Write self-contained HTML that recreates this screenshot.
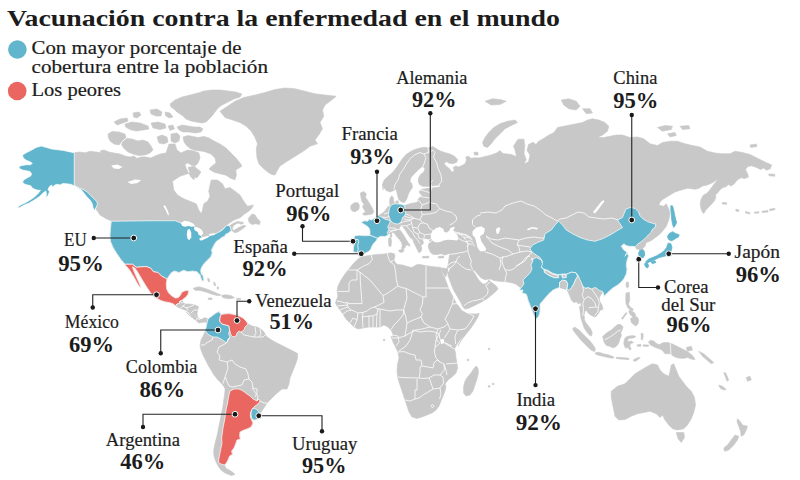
<!DOCTYPE html>
<html lang="es"><head><meta charset="utf-8"><title>Vacunación contra la enfermedad en el mundo</title>
<style>
html,body{margin:0;padding:0;background:#fff;}
body{width:800px;height:480px;overflow:hidden;position:relative;font-family:"Liberation Serif",serif;}
svg{position:absolute;left:0;top:0;font-family:"Liberation Serif",serif;}
text{fill:#1c1c1c;}
.n{font-size:19px;stroke:#1c1c1c;stroke-width:0.2px;}
.p{font-size:24px;font-weight:bold;}
.t{font-size:23.2px;font-weight:bold;}
.g{font-size:19px;stroke:#1c1c1c;stroke-width:0.2px;}
</style></head><body>
<svg width="800" height="480" viewBox="0 0 800 480">
<path d="M220,111.25L227.5,106.25L235,101.25L243.75,97.5L255,95L265,92.5L275,89.5L285,88L295,88.75L305,91.25L315,93.75L325,95L336.25,96.25L330,101.25L325,105L322.5,110L323.75,116.25L320,122.5L322.5,128.75L318.75,135L315,140L317.5,143.75L310,146.25L305,150L302,152L294,157L286,162L280,166L277,171L275,175L272,174.5L269,173L264,169L259,164L257,158L256.25,148.75L257.5,143.75L255,137.5L251.25,131.25L246.25,126.25L240,122.5L232.5,120L225,117.5Z" fill="#c8c8c8" stroke="#c8c8c8" stroke-width="0.6" stroke-linejoin="round"/>
<path d="M170,104L175,100L182,97L190,95L198,93L204,91L212,90L220,90L228,91L236,92L242,94L240,97L234,99L228,102L222,105L218,108L215,112L212,116L209,119L206,122L202,123L196,122L191,121L186,119L183,116L180,114L177,112L174,109L171,107Z" fill="#c8c8c8" stroke="#c8c8c8" stroke-width="0.6" stroke-linejoin="round"/>
<path d="M177,127L182,125L188,126L194,127L200,127L203,129L201,132L195,133L189,132L183,132L179,130Z" fill="#c8c8c8" stroke="#c8c8c8" stroke-width="0.6" stroke-linejoin="round"/>
<path d="M150,110L157,109L162,112L161,116L156,116L151,114Z" fill="#c8c8c8" stroke="#c8c8c8" stroke-width="0.6" stroke-linejoin="round"/>
<path d="M165,112L170,113L173,117L169,118L165.6,115.6Z" fill="#c8c8c8" stroke="#c8c8c8" stroke-width="0.6" stroke-linejoin="round"/>
<path d="M133,113L139,112L141,115L137,118L133.6,117Z" fill="#c8c8c8" stroke="#c8c8c8" stroke-width="0.6" stroke-linejoin="round"/>
<path d="M114,122L120,119L127,118L128,121L123,123L117,125Z" fill="#c8c8c8" stroke="#c8c8c8" stroke-width="0.6" stroke-linejoin="round"/>
<path d="M125,124L132,122L140,123L148,126L149,129L143,130L136,131L130,129.6L125.6,127Z" fill="#c8c8c8" stroke="#c8c8c8" stroke-width="0.6" stroke-linejoin="round"/>
<path d="M151,123L158,122L165,124L166,128L160,129.6L153,128Z" fill="#c8c8c8" stroke="#c8c8c8" stroke-width="0.6" stroke-linejoin="round"/>
<path d="M168,126L173,125L174.4,129L170,130.4Z" fill="#c8c8c8" stroke="#c8c8c8" stroke-width="0.6" stroke-linejoin="round"/>
<path d="M108,134L112,131.6L119,132L125,134L126,137.6L122.4,140.4L119,145L114,144L110,141L108.4,137.6Z" fill="#c8c8c8" stroke="#c8c8c8" stroke-width="0.6" stroke-linejoin="round"/>
<path d="M122.4,142L127,138.4L132,139L138,141L143,140L148,142L151,146L153,150L150,153L145,155L139,155.6L133,154L128,152L124,148.4L121.6,144.8Z" fill="#c8c8c8" stroke="#c8c8c8" stroke-width="0.6" stroke-linejoin="round"/>
<path d="M157,137L162,135L167,137L168,142L164,144L159,143Z" fill="#c8c8c8" stroke="#c8c8c8" stroke-width="0.6" stroke-linejoin="round"/>
<path d="M171,134L177,133L180,136L179,141L175,143L171,141Z" fill="#c8c8c8" stroke="#c8c8c8" stroke-width="0.6" stroke-linejoin="round"/>
<path d="M183,137L188,135.6L193,136.4L198,137.6L204,136.4L209,138L214,141L220,144L226,148L231,153L236,158L240,163L242,166L239.4,167.8L235.8,170L236.4,175.2L235,179.8L230.4,178.2L226,175.2L220,173.8L214,172.2L209,169L212,166L216,163L215,158L211,154L204,151.4L196,150.4L191,149L187,146L184,142Z" fill="#c8c8c8" stroke="#c8c8c8" stroke-width="0.6" stroke-linejoin="round"/>
<path d="M188,167.6L194,166L201,172L197,178L191,175.6Z" fill="#c8c8c8" stroke="#c8c8c8" stroke-width="0.6" stroke-linejoin="round"/>
<path d="M74.25,152.75L79.5,152L85.5,152.75L90,151.25L96,152L102,152.75L100,151L104,150L109,152L114,153L120,154L125,156L130,157L134,156L137,158.4L141,157L146,157L151,158L155,156L160,154L166,153L169,144L175,144L177,150L181,153L185,151L188,150L194,151L199,153L200,158L198,163L195,166L191,165L188,163L185,164L186,168L188,172L191,177L194,180L195,171.25L187.5,173.75L180,176.25L172.5,181.25L173.75,190L177.5,195L183.75,198.75L190,201.25L196.25,203.75L198.75,210L201.25,213.75L202.5,210L203.75,203.75L207.5,201.25L210,196.25L208.75,191.25L210,185L211.25,180L217.5,180L222.5,183.75L225,188.75L230,187.5L235,191.25L240,195L243.75,201.25L247.5,206.25L253.5,205L252,208L249,211L244.5,214L240,217.75L234,220L229.5,223L225,226.75L220.5,230.5L216.75,233.2L220.5,232.9L225.75,229L231,224.8L234.75,222.55L238.5,221.2L240.3,222.4L236.25,223.75L233.25,226L232.2,229L234,230.5L238.5,227.5L243.75,225.25L246,226L242.25,229L237.75,232L234.75,232.75L232.5,231.1L231,230.5L228.75,232.75L225.75,234.25L224.25,236.5L222,237.25L219.75,239.2L216.75,241L214.5,244L213,247L211.5,250L212.25,253L210.75,256.75L207.75,259.75L204.75,262.75L202.5,265.75L201,268.75L200.7,271.75L201.75,274.75L201.8,272.5L203,276.25L203.75,279.25L202.7,281.8L201.2,278.5L200,274.75L197,271.75L192.5,271L188,271.75L183.5,270.25L179,272.5L174.5,271L171.5,272.5L169.25,275.5L167,279.25L166.25,283.75L166.7,289L168.5,292.75L171.5,295.75L175.25,298L178.25,297.7L180.5,295L182,292L185.75,290.5L188.75,290.8L188,294.25L185.75,297.25L183.5,298.75L182,300.25L183.5,302.5L185,304L189.5,304L194,304.75L198.5,306.55L197.75,310L197,313.75L197.75,317.5L200,319.75L203,322L189,310L192,313L195,316L198,318.4L201,319.6L205,317.6L208,319L207,323L205,322L201.6,322.4L199,323L195.6,320L192,317.6L189,315L186,312L198.5,322L196.25,320.5L194,318.25L191.75,316L189.5,313L186.5,310.75L182.75,309.25L179,307.75L175.7,305.8L173,303.7L169.25,302.5L164.75,301.75L160.25,300.25L156.5,298L153.5,295.75L150.5,292.75L148.25,289.3L146,286L143.75,282.25L141.5,278.5L139.25,274.75L137,271L134.75,268L132.5,266.8L133.25,269.5L134.75,273.25L136.7,277.75L138.5,281.5L140,285.25L140.6,287.35L138.8,286L136.7,282.25L134.75,278.5L132.5,274.75L130.25,271L128,268L125.75,265.75L125,264.25L120.5,259L117.5,254.5L114.5,250L112.5,246.25L110.5,241.25L110,235L110.5,228.75L111.25,221.25L112.5,221.25L106.25,218.75L100,215L96,209L97.5,204.5L96.75,201.5L93.75,198.5L90,194.75L87,191.75L83.25,189.5L79.5,188L76.5,186.5L74.25,185Z" fill="#c8c8c8" stroke="#c8c8c8" stroke-width="0.6" stroke-linejoin="round"/>
<path d="M193.25,288.25L198.5,286.75L204.5,288.25L210.5,290.5L215.75,292.75L221,295L218,295.75L212,294.25L206,292L200,290.5L194.75,290.2Z" fill="#c8c8c8" stroke="#c8c8c8" stroke-width="0.6" stroke-linejoin="round"/>
<path d="M221.75,295.3L226.25,294.7L231.5,295.75L234.5,297.7L230,298.75L225.5,298.3L222.2,297.25Z" fill="#c8c8c8" stroke="#c8c8c8" stroke-width="0.6" stroke-linejoin="round"/>
<path d="M236.75,298.3L240.5,298.3L240.5,299.8L236.75,299.8Z" fill="#c8c8c8" stroke="#c8c8c8" stroke-width="0.6" stroke-linejoin="round"/>
<path d="M208.25,298L212,298L212,299.5L208.25,299.5Z" fill="#c8c8c8" stroke="#c8c8c8" stroke-width="0.6" stroke-linejoin="round"/>
<path d="M207.5,278.5L209,278.5L209.75,281.5L208.25,281.8Z" fill="#c8c8c8" stroke="#c8c8c8" stroke-width="0.6" stroke-linejoin="round"/>
<path d="M213.5,282.25L215,282.7L215.75,285.7L214.25,285.4Z" fill="#c8c8c8" stroke="#c8c8c8" stroke-width="0.6" stroke-linejoin="round"/>
<path d="M217.25,286.75L218.75,287.2L218.3,289.3L217.1,288.7Z" fill="#c8c8c8" stroke="#c8c8c8" stroke-width="0.6" stroke-linejoin="round"/>
<path d="M248.25,218.5L252,214L255,214.75L257.25,218.5L260.25,221.5L259.5,224.5L255.75,223.75L252,224.5L249,222.25Z" fill="#c8c8c8" stroke="#c8c8c8" stroke-width="0.6" stroke-linejoin="round"/>
<path d="M238.5,222.7L242.25,221.8L243.75,223.3L240,224.2Z" fill="#c8c8c8" stroke="#c8c8c8" stroke-width="0.6" stroke-linejoin="round"/>
<path d="M208,319L212,316L216,313L219,311.6L221,314.4L224,314L229,313.6L234,314.4L239,316L243,318L246,321L248,324L252,326L257,327L261,329L264,332L266,336L270,339L275,342L281,345L287,348L293,351L297.6,353.6L297.6,358L296,363L294,368L292,373L290,378L289,384L287,389L282,389L276,394L271,399L267,403L264,408L261,412L259.6,417L257,419.6L253.6,420L251.6,418.4L251.6,420L253,423L251,427L247,429L243,430.4L240,432L239.6,436L240.4,439L237,440L235.6,444L234,448L231.6,451L232.4,454.4L229.6,456L228,460L226.4,463L224.4,465L226,468L229,471L232.4,473L234,474.4L230,475L225,473L221,470L218,466L215.6,461L214,456L213.6,451L214.4,446L215.6,441L217,436L218,431L219,426L220,421L221,416L222,411L223,406L223.6,401L224.4,396L225,391L225,386L225,388L222,384L218,380L214,375L211,370L208,365L205.6,360L203,355L201,350L200,345.6L201,340L203,336L205,332L206,328L207,323Z" fill="#c8c8c8" stroke="#c8c8c8" stroke-width="0.6" stroke-linejoin="round"/>
<path d="M227.6,469L232.4,472L235,474.4L231,475.6L228,473Z" fill="#c8c8c8" stroke="#c8c8c8" stroke-width="0.6" stroke-linejoin="round"/>
<path d="M474,152L478,152.5L478,155L474.5,155Z" fill="#c8c8c8" stroke="#c8c8c8" stroke-width="0.6" stroke-linejoin="round"/>
<path d="M383.25,190L382.5,184.75L384,180.25L387.75,176.5L392.25,172.75L396,168.25L399,163.75L402,159.25L405.75,154.75L410.25,151.75L414.75,149.5L420,148L424.5,147.25L428.25,148L432.75,146.5L436.5,148.75L440.25,151L444.75,152.5L450,154L454.5,156.25L457.5,159.25L456.75,162.25L453,163.75L449.25,163.3L446.25,161.5L444,163.75L447,166.75L450,169.3L451.8,172.3L454.2,170.5L453.3,167.5L455.7,166L458.7,166.9L462,165.4L465,163.75L466.5,160L465.75,157L468.75,156.25L471,158.5L474,157.75L478,158L482,157.25L491,155L497,152.75L500,150.5L503,153.5L510.5,154.25L516.5,156.5L515,150L513.5,146L518,139.25L524,139.25L524.75,146L524,153.5L526.25,159.5L524,164L528.5,161.75L530,155L527,150.5L528.5,144.5L533,142.25L536,144.5L538.25,141.5L543.5,138.5L548,135.5L554,132.5L557.5,127.5L563.75,126.25L570,125L576.25,123.75L582.5,122.5L587.5,120L592.5,118.75L598.75,120L605,122.5L608.75,126.25L607.5,131.25L602.5,135L597.5,137.5L603.75,137.5L610,136.25L616.25,135L622.5,135L630,137.5L637.5,137L643.75,138.75L650,143.75L657.5,145.5L662.5,142.5L670,141.25L677.5,141.25L685,143.75L692.5,145.5L700,147L707.5,151.25L715,153L722.5,153.75L730,153.75L735,151.25L742.5,152.5L750,154.5L757.5,158.25L765,162L771.75,165L770.25,168.75L766.5,170.25L763.5,168L760.5,169.5L756,167.25L751.5,165.75L747.75,166.5L745.5,169.5L747.75,174L748.5,177L744.75,178.5L741,177.75L737.25,180L734.25,183.75L731.25,186L728.25,184.5L726,186.75L723,187.5L720,189.75L717.75,192.75L715.5,195L715.8,197.25L714.75,200.25L712.5,203.25L710.25,205.5L708,207.75L705.75,210L704.25,213L703.2,213.3L702,211.5L700.8,207.75L700.2,203.25L701.25,198.75L703.5,195L706.5,193.5L708.75,191.25L711,188.25L713.25,185.25L715.5,182.25L718.2,178.5L716.25,180L713.25,182.25L710.25,183.75L706.5,185.25L702.75,186L699,188.25L695.25,189.3L691.5,188.7L687.75,188.25L684,189.3L679.5,190.5L675,192L671.25,194.25L667.5,196.5L663.75,198.75L660.75,201L658.75,205L663.75,206.25L666.25,203.75L668.75,208.75L670,213.75L668.75,220L666.25,226.25L662.5,231.25L658.75,235L653.75,238.75L650,241.25L646.25,242.5L645,246.25L642.5,248.75L644.5,251.25L644.5,255L642.5,257.5L639.5,257.5L638.75,253.75L640,250L636.25,248.75L635,246.25L632.5,244.5L628.75,246.25L626.25,245.5L623.75,243.75L621.25,246.25L623.75,250L627.5,252.5L625,256.25L627,252.25L628.5,256L627,260.5L626.25,265L627,269.5L626.25,274L624,278.5L621,282.25L617.25,285.25L613.5,287.5L609.75,290.5L606.75,293.5L605.25,295L604.5,296.5L603.75,294.25L603,292L600.75,295L599.25,298L600,301.75L602.25,305.5L603,309.25L600.2,310.25L598.25,314L595.25,317L593,316.25L590,314.75L587.75,312.5L586.25,310.25L584.75,311.75L584,315.5L584.75,319.25L586.25,323L588.5,326L590.75,329L592.25,332.75L591.5,336.05L589.25,335L586.25,331.25L584,327.5L582.5,323L581,318.5L580.25,312.5L579.5,306.5L581.25,306.25L580.5,302.5L578.25,304L576.75,301.75L573.75,302.5L571.5,300.25L570,296.5L568.5,292.75L566.7,289.75L563.25,288.7L559.5,287.5L557.25,288.25L553.5,289.75L549,293.5L544.5,298.75L540,304L540,311.25L538.75,316.25L536.25,318.75L535.4,318L534,315L532,310L530,305L528,300L527,296L526,294L522,293L523,290L519,290L521,288L518.1,286L516.5,284.6L515.6,284.1L512.5,282.9L508.75,282.25L505,281.6L501.25,281.6L497.5,281L493.75,280.4L490.6,279.1L488.75,279.1L485,279.75L481.25,277.9L478.1,274.75L475,271L471.9,269.1L472.5,270.4L474.4,272.9L476.25,276L478.1,279.1L480,281.6L482.5,283.75L485,284.1L487.5,282.25L489.1,279.75L489.6,280.6L491.25,282.25L493.75,284.1L496.25,286L498.1,288.75L496.25,291L491.9,294.75L487.5,298.5L482.5,301.6L477.5,304.1L472.5,306.6L468.1,308.5L464.4,309.1L463.1,307.25L461.25,303.5L458.75,299.1L456.25,294.75L453.75,290.4L451.9,286L450,281L448.1,276L447.5,271.6L445.6,277.25L440.6,269.1L441.25,267.9L446.9,268.5L448.12,265L448.75,260L449.38,255.62L451.25,253.12L448.75,253.75L445,255L441.25,253.75L437.5,254.38L433.12,254.38L430.62,252.5L429.38,250L428.12,246.88L428.75,243.75L430,241.88L429.38,240L426.88,238.75L424.38,238.75L422.5,240.62L423.75,242.5L422.5,244.38L420.62,245.62L421.88,248.12L421.25,251.25L419.38,252.75L418.75,252.5L417.5,250L415.62,246.25L413.75,242.5L412.5,238.75L410.62,238.12L408.12,234.38L405.62,230.62L403.12,226.88L401.25,225.62L399.38,227.5L400,230L402.25,233.12L404.38,236.25L406.25,239.38L408.12,242.5L410,245L409.38,246.25L407.5,245L405.62,245.62L405,247.75L402.75,249L401.5,248.5L402.25,245.62L401.5,242.5L399.38,239.38L397.5,237.5L395.62,235L393.75,232.5L391.25,232.5L388.75,233.75L385,236.5L381.25,236.2L378.7,237.25L377.5,238.3L376,241L373.75,243.25L371.8,246.25L370.75,249.25L368.5,251.5L365.5,253L362.5,254.2L361,253L358,252.7L355,252.25L353.2,251.5L353.5,247.75L354.25,244L353.8,240.25L354.25,237.25L355,235.75L359.5,235.3L364.75,235.75L370,235.45L370,231.25L369.25,228.25L367,226L364,224.2L361,222.25L364.75,220.75L367.75,221.2L369.25,219.25L371.5,220L375.25,217.75L378.25,215.5L381.25,214L384.25,211.75L386.5,208.75L388,206.5L390.25,205.75L389.5,202L389.95,198.25L391.75,195.7L393.25,197.5L393.7,201.25L394.75,203.8L396.25,203.8L400,204.25L403,205.75L406,205L410.5,203.5L415,202.75L417.7,202L418.12,199.38L420,196.88L422.5,195L420,193.75L419.38,191.25L421.25,189.38L425,188.75L430,188.12L435,187.5L440,186.88L440,185L435,185.62L430,186.25L426.25,186.5L422.5,186.25L419.38,184.38L418.12,181.25L418.75,177.5L420.62,174.38L423.75,171.88L425,168.75L422.5,166.25L421.88,166.88L419.38,168.75L416.25,171.88L413.12,175L410.62,178.12L410,181.25L411.88,183.75L412.5,187.5L410.62,190L408.75,193.12L407.5,196.88L406.25,200L404.38,202.5L401.25,201.88L398.75,199.38L397.5,195.62L396.88,191.88L395.62,188.75L393.75,190.62L390,191.88L386.25,190.62L383.75,187.5L382.5,183.75Z" fill="#c8c8c8" stroke="#c8c8c8" stroke-width="0.6" stroke-linejoin="round"/>
<path d="M482.5,142.5L485,137.5L488.75,132.5L493.75,127.5L500,123.75L507.5,121.25L515,120L517.5,122.5L511.25,125.5L505,128.75L500,133.75L495,138.75L491.25,143.75L487.5,147.5L483.75,146.25Z" fill="#c8c8c8" stroke="#c8c8c8" stroke-width="0.6" stroke-linejoin="round"/>
<path d="M485,101.25L492.5,98.75L500,99.5L506.25,101.25L500,104.5L491.25,105Z" fill="#c8c8c8" stroke="#c8c8c8" stroke-width="0.6" stroke-linejoin="round"/>
<path d="M561.25,100L568.75,98.75L576.25,101.25L580,106.25L576.25,110L568.75,108.75L563.75,105Z" fill="#c8c8c8" stroke="#c8c8c8" stroke-width="0.6" stroke-linejoin="round"/>
<path d="M582.5,108.75L590,108.75L592.5,113L586.25,113.75Z" fill="#c8c8c8" stroke="#c8c8c8" stroke-width="0.6" stroke-linejoin="round"/>
<path d="M657.5,127.5L665,125.5L672.5,126.25L671.25,129.5L662.5,131.25Z" fill="#c8c8c8" stroke="#c8c8c8" stroke-width="0.6" stroke-linejoin="round"/>
<path d="M667.5,133.75L675,132.5L676.25,135.5L670,137Z" fill="#c8c8c8" stroke="#c8c8c8" stroke-width="0.6" stroke-linejoin="round"/>
<path d="M680,126.25L688.75,125.5L690,128.75L682.5,129.5Z" fill="#c8c8c8" stroke="#c8c8c8" stroke-width="0.6" stroke-linejoin="round"/>
<path d="M750,145L756.25,144L757,146.5L750.75,147.5Z" fill="#c8c8c8" stroke="#c8c8c8" stroke-width="0.6" stroke-linejoin="round"/>
<path d="M722.25,202.5L726.75,202.8L726.75,204.3L722.25,204Z" fill="#c8c8c8" stroke="#c8c8c8" stroke-width="0.6" stroke-linejoin="round"/>
<path d="M735.75,209.25L738.75,209.7L738.75,211.5L736.05,211.2Z" fill="#c8c8c8" stroke="#c8c8c8" stroke-width="0.6" stroke-linejoin="round"/>
<path d="M745.5,211.5L750,212.7L749.7,214.05L745.5,213Z" fill="#c8c8c8" stroke="#c8c8c8" stroke-width="0.6" stroke-linejoin="round"/>
<path d="M754.5,212.1L759,211.8L759,213L754.5,213.3Z" fill="#c8c8c8" stroke="#c8c8c8" stroke-width="0.6" stroke-linejoin="round"/>
<path d="M762,211.2L768,210.6L768,212.1L762,212.4Z" fill="#c8c8c8" stroke="#c8c8c8" stroke-width="0.6" stroke-linejoin="round"/>
<path d="M769.5,209.25L774.75,208.2L775.05,209.7L769.8,210.75Z" fill="#c8c8c8" stroke="#c8c8c8" stroke-width="0.6" stroke-linejoin="round"/>
<path d="M768.75,174L774.75,174.3L774.75,176.25L769.05,175.8Z" fill="#c8c8c8" stroke="#c8c8c8" stroke-width="0.6" stroke-linejoin="round"/>
<path d="M360.25,193L364,191.5L366.25,193.75L365.5,197.5L367.75,200.5L370,204.25L372.25,208L373.75,211.75L372.25,214L368.5,214.75L364,215.2L362.5,214L365.5,211.75L364,209.5L362.5,206.5L364,204.25L361.75,201.25L361,197.5Z" fill="#c8c8c8" stroke="#c8c8c8" stroke-width="0.6" stroke-linejoin="round"/>
<path d="M351.25,205L354.25,202.75L358,202.75L359.5,205.75L358.75,209.5L355,211.75L352,211L350.5,208Z" fill="#c8c8c8" stroke="#c8c8c8" stroke-width="0.6" stroke-linejoin="round"/>
<path d="M395.5,201.25L398.2,200.8L398.5,203.5L396.1,203.8Z" fill="#c8c8c8" stroke="#c8c8c8" stroke-width="0.6" stroke-linejoin="round"/>
<path d="M398.5,250.25L401.25,249.5L404,249.38L403.75,251.25L401.88,252.5L399.38,251.88Z" fill="#c8c8c8" stroke="#c8c8c8" stroke-width="0.6" stroke-linejoin="round"/>
<path d="M388.75,238.12L391,238.12L391.5,241.88L391,246.25L389,246.25L388.5,241.88Z" fill="#c8c8c8" stroke="#c8c8c8" stroke-width="0.6" stroke-linejoin="round"/>
<path d="M390,232.5L391.62,232.75L391.88,236.88L390.38,237.5Z" fill="#c8c8c8" stroke="#c8c8c8" stroke-width="0.6" stroke-linejoin="round"/>
<path d="M422.5,256.5L428.75,256.25L428.75,257.88L422.75,258Z" fill="#c8c8c8" stroke="#c8c8c8" stroke-width="0.6" stroke-linejoin="round"/>
<path d="M438.12,256.5L443.75,256L443.5,257.88L438.5,258.12Z" fill="#c8c8c8" stroke="#c8c8c8" stroke-width="0.6" stroke-linejoin="round"/>
<path d="M362,257L366,256L372,255L378,254.4L384,254L390,253L391.25,252.88L394.38,253.75L395,256.25L394,259.38L395,262.5L397.5,264.38L402.5,265L407.5,266.5L411.25,267.5L413.75,266.5L416.25,264.75L420,264.38L425,265.62L430,266.25L435,266.88L440,267.25L441.25,267.9L440.6,269.1L442.5,273.5L445,278.5L446.9,283.5L448.75,288.5L451.25,293.5L453.75,298.5L456.25,302.9L459.4,307.25L461.9,310.4L462.5,311L466.25,312.9L471.25,313.75L476.25,314.1L479.2,313.2L478,317L475,322L471,328L467,333L463,338L460,342L458,346L464,335L460,340L457,344L454.4,349L455.6,353L456,358L457,363L457.6,368L456,373L452,377L448,380L445,384L446,387L445,391L443,396L441,401L439,406L436,410L432,413L427,415L422,417L417,418.4L412,417L409,412L407,406L405,400L403,394L401,388L399,382L397.6,377L397,370L397.6,364L399,358L398,352L396,348L393,342L391,336L392,339L393,334L391,330L388,327L384,325L380,327L375,327L369,327L363,328L358,329L354,327L350,323L346,319L343,314L340,310L337,306L335.6,303L336,301L338,296L337,291L338,286L341,280L345,274L349,269L353,264L358,259L364,255Z" fill="#c8c8c8" stroke="#c8c8c8" stroke-width="0.6" stroke-linejoin="round"/>
<path d="M476,366L478,368L478.4,373L477,379L475,385L473,391L470,395L466,396L463.6,393L463.6,387L465,381L467.6,377L471,373L473.6,369Z" fill="#c8c8c8" stroke="#c8c8c8" stroke-width="0.6" stroke-linejoin="round"/>
<path d="M467.2,359.4L468.8,359.2L469,360.6L467.4,360.8Z" fill="#c8c8c8" stroke="#c8c8c8" stroke-width="0.6" stroke-linejoin="round"/>
<path d="M488.2,348.4L489.8,348.2L490,349.6L488.4,349.8Z" fill="#c8c8c8" stroke="#c8c8c8" stroke-width="0.6" stroke-linejoin="round"/>
<path d="M488.2,385.8L489.8,385.6L490,387L488.4,387.2Z" fill="#c8c8c8" stroke="#c8c8c8" stroke-width="0.6" stroke-linejoin="round"/>
<path d="M492.2,383.4L493.8,383.2L494,384.6L492.4,384.8Z" fill="#c8c8c8" stroke="#c8c8c8" stroke-width="0.6" stroke-linejoin="round"/>
<path d="M383.2,339.4L384.8,339.2L385,340.6L383.4,340.8Z" fill="#c8c8c8" stroke="#c8c8c8" stroke-width="0.6" stroke-linejoin="round"/>
<path d="M626.25,282.25L628.5,282.25L628.8,286L627.3,288.25L626.1,286Z" fill="#c8c8c8" stroke="#c8c8c8" stroke-width="0.6" stroke-linejoin="round"/>
<path d="M572.75,328.25L575,327.2L578.75,329.75L582.5,333.5L586.25,337.25L590,341L593,344.75L595.25,348.5L594.8,351.5L592.25,350.75L589.25,348.5L585.5,344.75L581.75,341L578,336.5L575,332.75L573.2,330.2Z" fill="#c8c8c8" stroke="#c8c8c8" stroke-width="0.6" stroke-linejoin="round"/>
<path d="M595.25,352.7L599,352.25L603.5,353.75L608,354.8L611.75,356L614,357.2L613.25,358.25L609.5,357.8L605,356.75L600.5,355.7L596.75,354.8L595.25,353.75Z" fill="#c8c8c8" stroke="#c8c8c8" stroke-width="0.6" stroke-linejoin="round"/>
<path d="M616.25,357.2L620,357.5L624.5,357.8L629,358.25L628.7,359.75L624.5,359.3L620,359L616.25,358.4Z" fill="#c8c8c8" stroke="#c8c8c8" stroke-width="0.6" stroke-linejoin="round"/>
<path d="M633.5,359.75L638,357.5L640.25,357.8L636.5,360.8L633.8,361.25Z" fill="#c8c8c8" stroke="#c8c8c8" stroke-width="0.6" stroke-linejoin="round"/>
<path d="M602.75,336.5L605,334.25L608,332L611.75,329.75L614.75,326.75L617.75,324.5L620.75,324.5L623,326.75L622.25,329.75L620.75,332.75L621.5,335.75L620,338.75L619.25,341.75L617.75,344.75L615.5,347L612.5,347.75L609.5,346.25L606.5,345.5L604.7,343.25L603.5,340.25Z" fill="#c8c8c8" stroke="#c8c8c8" stroke-width="0.6" stroke-linejoin="round"/>
<path d="M624.5,338.75L626.75,336.5L630.5,335.75L634.25,335.75L635.75,336.8L633.5,338L629.75,338.3L627.5,339.8L628.25,341.75L631.25,341L633.5,342.5L630.5,343.7L629.75,346.25L631.25,349.25L629.75,350L627.5,347L626,348.5L624.5,346.25L623.75,343.25L624.2,340.7Z" fill="#c8c8c8" stroke="#c8c8c8" stroke-width="0.6" stroke-linejoin="round"/>
<path d="M641,333.5L642.8,333.2L643.25,336.5L642.2,340.25L641,338.75L641.3,336.2Z" fill="#c8c8c8" stroke="#c8c8c8" stroke-width="0.6" stroke-linejoin="round"/>
<path d="M637.25,344.75L641,344.45L641,346.25L637.25,346.25Z" fill="#c8c8c8" stroke="#c8c8c8" stroke-width="0.6" stroke-linejoin="round"/>
<path d="M643.25,344.75L648.5,345.05L648.5,346.4L643.25,346.25Z" fill="#c8c8c8" stroke="#c8c8c8" stroke-width="0.6" stroke-linejoin="round"/>
<path d="M626,293L629.3,292.25L629.75,300.5L628.25,304.25L630.5,307.25L633.5,309.5L632,311L629.75,309.5L627.5,307.25L626,303.5L625.7,299.75Z" fill="#c8c8c8" stroke="#c8c8c8" stroke-width="0.6" stroke-linejoin="round"/>
<path d="M629,310.25L631.25,311L634.25,312.5L635.75,314.75L635,317.75L632.75,317L630.5,314.75L629,312.5Z" fill="#c8c8c8" stroke="#c8c8c8" stroke-width="0.6" stroke-linejoin="round"/>
<path d="M630.5,318.5L633.5,317L637.25,317L638.75,320L638,323.75L635.75,326L633.5,324.5L631.25,322.25Z" fill="#c8c8c8" stroke="#c8c8c8" stroke-width="0.6" stroke-linejoin="round"/>
<path d="M621.5,318.5L626,312.5L626.9,313.25L622.7,319.25Z" fill="#c8c8c8" stroke="#c8c8c8" stroke-width="0.6" stroke-linejoin="round"/>
<path d="M648.5,341.75L650.75,340.25L653.75,341L656,343.25L659,344.75L663.5,342.5L668,342.5L672.5,344L677,346.25L681.5,348.5L686,350.75L690.5,353.75L693.5,356.75L695,359.75L692,359.3L687.5,357.5L684.5,358.25L680,358.25L676.25,357.5L673.25,356L670.25,353.75L665,353.75L662,350L658.25,348.5L656,347.75L653,346.25L650,344.75Z" fill="#c8c8c8" stroke="#c8c8c8" stroke-width="0.6" stroke-linejoin="round"/>
<path d="M611.25,391.25L617.5,386.25L625,383.75L630,378.75L635,373.75L641.25,370L647.5,366.25L652.5,363.75L657.5,365L660,370L663.75,373.75L668.75,376.25L670,371.25L671.25,365L673.75,363.75L676.25,370L678.75,376.25L682.5,381.25L686.25,386.25L691.25,391.25L694.5,397.5L695.5,405L693.75,412.5L691.25,418.75L687.5,425L683.75,428.75L677.5,430L672.5,428.75L668.75,425L665,420L662.5,415L660,417.5L656.25,413.75L650,411.25L643.75,412.5L637.5,413.75L631.25,416.25L625,419.5L618.75,420L615,416.25L613.75,410L612.5,403.75L611.25,397.5Z" fill="#c8c8c8" stroke="#c8c8c8" stroke-width="0.6" stroke-linejoin="round"/>
<path d="M676.25,432.5L683.75,432.5L684.5,437.5L681.25,442.5L678,438.75Z" fill="#c8c8c8" stroke="#c8c8c8" stroke-width="0.6" stroke-linejoin="round"/>
<path d="M737.5,418.75L740,421.25L742.5,425L747.5,426.25L746.25,430L743.75,435L741.25,436.25L740.5,431.25L738.75,426.25L737,421.25Z" fill="#c8c8c8" stroke="#c8c8c8" stroke-width="0.6" stroke-linejoin="round"/>
<path d="M735,435L738.75,436.25L737.5,440L733.75,445L728.75,450L724.5,451.25L723.75,448L727.5,445L731.25,440Z" fill="#c8c8c8" stroke="#c8c8c8" stroke-width="0.6" stroke-linejoin="round"/>
<path d="M718.75,385L722.5,386.25L726.25,389.5L723.75,390L720,388Z" fill="#c8c8c8" stroke="#c8c8c8" stroke-width="0.6" stroke-linejoin="round"/>
<path d="M723.75,372.5L725.75,373L728.75,380L727,381.25Z" fill="#c8c8c8" stroke="#c8c8c8" stroke-width="0.6" stroke-linejoin="round"/>
<path d="M746.25,377.5L750,376.25L751.25,380L747.5,381.25Z" fill="#c8c8c8" stroke="#c8c8c8" stroke-width="0.6" stroke-linejoin="round"/>
<path d="M698.75,351.25L703.75,353.75L713.75,362.5L711.25,363.75L702.5,356.25Z" fill="#c8c8c8" stroke="#c8c8c8" stroke-width="0.6" stroke-linejoin="round"/>
<path d="M686.25,347.5L691.25,346.25L692.5,350L687.5,351.25Z" fill="#c8c8c8" stroke="#c8c8c8" stroke-width="0.6" stroke-linejoin="round"/>
<path d="M111.25,165.5L117.5,164.5L122.5,167L118.75,169L113.75,168.5Z" fill="#fff" />
<path d="M127.5,182L135,179.5L141.25,180L137.5,183L131.25,184Z" fill="#fff" />
<path d="M431.25,233.75L433.12,230.62L436.25,228.12L440,226.88L443.12,228.75L444.38,231.88L446.88,232.5L449.38,230.62L450.62,228.12L453.12,226.88L455,227.5L453.12,230L455,232.5L457.5,235.62L458.75,238.75L456.88,240.62L452.5,240L448.12,239.75L443.75,240.62L440,241.88L436.25,242.5L433.12,241.25L431.25,238.75L430.62,236.25Z" fill="#fff" />
<path d="M472.5,231.25L476.25,227.5L481.25,226.25L485,228.75L483.75,233.75L480,236.25L481.25,241.25L483.75,245L486.25,248.75L485,251.25L480,251.25L477.5,247.5L476.25,242.5L475,237.5L472.5,235Z" fill="#fff" />
<path d="M496,229L499,227L500.4,229L498.4,234L496.4,233.6Z" fill="#fff" />
<path d="M593,212L597,207L601,202L603.6,200L604.4,201.6L601.6,205L598,210L595,213.6Z" fill="#fff" />
<path d="M527,229L532,227L538,228L537,229.4L532,228.6L528,230.4Z" fill="#fff" />
<path d="M440,339.4L443.6,338.8L444.4,343.2L441,344Z" fill="#fff" />
<path d="M371,254.4L372.4,259.6L369,263.6L363,266.4L357,270" fill="none" stroke="#fff" stroke-width="0.8" stroke-linejoin="round" />
<path d="M348.4,270L357,270L357,280L351.6,280L349,283L349,291.4L337.6,291.4" fill="none" stroke="#fff" stroke-width="0.8" stroke-linejoin="round" />
<path d="M357,270L370,280L383,295.6L388,293L398,286" fill="none" stroke="#fff" stroke-width="0.8" stroke-linejoin="round" />
<path d="M387.4,253L388.4,258L390.4,262L393.6,260.4" fill="none" stroke="#fff" stroke-width="0.8" stroke-linejoin="round" />
<path d="M390.4,262L394.4,265L395.6,272L396.4,280L398,286L402,287.6L406,288.4L423,297L426,297L426,288L426,266" fill="none" stroke="#fff" stroke-width="0.8" stroke-linejoin="round" />
<path d="M426,288L450,288" fill="none" stroke="#fff" stroke-width="0.8" stroke-linejoin="round" />
<path d="M360,272L360.4,282L362,303.6L349,303.6L347,302.4L345,303L341,301.6L337,301" fill="none" stroke="#fff" stroke-width="0.8" stroke-linejoin="round" />
<path d="M383,295.6L384,302.4L380,304.4L374.4,307L371,308L367,311L363,312.4L358,313L354,311L351,310L348,307L347,302.4" fill="none" stroke="#fff" stroke-width="0.8" stroke-linejoin="round" />
<path d="M406,288.4L407,298L404.4,307L403.6,310L396,310L390,311L385,310L380,309L378,309L374.4,307" fill="none" stroke="#fff" stroke-width="0.8" stroke-linejoin="round" />
<path d="M423,297L422.4,304L420,310L422.4,313.6L421,317L416,319L411,321L407,323L405.6,316L403.6,310" fill="none" stroke="#fff" stroke-width="0.8" stroke-linejoin="round" />
<path d="M455,295.6L453,300L452.4,304L457,303.6L462,307L463.6,308.4" fill="none" stroke="#fff" stroke-width="0.8" stroke-linejoin="round" />
<path d="M452.4,304L450,309L448,314L445,319L448,324L450,329L458,330L465,329L470,323L474,316L466,312L463.6,308.4" fill="none" stroke="#fff" stroke-width="0.8" stroke-linejoin="round" />
<path d="M421,317L424,323L430,327L438,329L444,327L448,324" fill="none" stroke="#fff" stroke-width="0.8" stroke-linejoin="round" />
<path d="M369,327L369,316" fill="none" stroke="#fff" stroke-width="0.8" stroke-linejoin="round" />
<path d="M373,327L373,316" fill="none" stroke="#fff" stroke-width="0.8" stroke-linejoin="round" />
<path d="M376.4,327L377,314" fill="none" stroke="#fff" stroke-width="0.8" stroke-linejoin="round" />
<path d="M380,327L380,309" fill="none" stroke="#fff" stroke-width="0.8" stroke-linejoin="round" />
<path d="M363,327.6L362.4,317L363,312.4" fill="none" stroke="#fff" stroke-width="0.8" stroke-linejoin="round" />
<path d="M362.4,317L369,316L373,316L377,314L378,309" fill="none" stroke="#fff" stroke-width="0.8" stroke-linejoin="round" />
<path d="M354,327L357,320L358,313" fill="none" stroke="#fff" stroke-width="0.8" stroke-linejoin="round" />
<path d="M350,323L353,318L357,320" fill="none" stroke="#fff" stroke-width="0.8" stroke-linejoin="round" />
<path d="M343,314L347,311L351,310" fill="none" stroke="#fff" stroke-width="0.8" stroke-linejoin="round" />
<path d="M340,310L344,308.4L348,307" fill="none" stroke="#fff" stroke-width="0.8" stroke-linejoin="round" />
<path d="M337,306L342,305.6L347.6,305" fill="none" stroke="#fff" stroke-width="0.8" stroke-linejoin="round" />
<path d="M391,329.6L394,325L399,320L403.6,314L403.6,310" fill="none" stroke="#fff" stroke-width="0.8" stroke-linejoin="round" />
<path d="M407,323L406,330L405,336L398,338L392,338" fill="none" stroke="#fff" stroke-width="0.8" stroke-linejoin="round" />
<path d="M405,336L410,333L416,330L422,329L430,327" fill="none" stroke="#fff" stroke-width="0.8" stroke-linejoin="round" />
<path d="M438,329L436,335L437,341L439.6,342.4" fill="none" stroke="#fff" stroke-width="0.8" stroke-linejoin="round" />
<path d="M450,329L447,334L444.4,338" fill="none" stroke="#fff" stroke-width="0.8" stroke-linejoin="round" />
<path d="M458,330L455,336L455.6,344" fill="none" stroke="#fff" stroke-width="0.8" stroke-linejoin="round" />
<path d="M444.4,342.4L452,346" fill="none" stroke="#fff" stroke-width="0.8" stroke-linejoin="round" />
<path d="M398,352L404,351.6L410,354L415,355L416,360L421,360L422,366L420,367L420,373L419,378" fill="none" stroke="#fff" stroke-width="0.8" stroke-linejoin="round" />
<path d="M397.6,377L404,377.6L419,378L423,378.4L429,378" fill="none" stroke="#fff" stroke-width="0.8" stroke-linejoin="round" />
<path d="M417,379L417,390L415,390L415,399L410,401L405,400" fill="none" stroke="#fff" stroke-width="0.8" stroke-linejoin="round" />
<path d="M415,399L419,398L423,395L428,392L433,389L440,388" fill="none" stroke="#fff" stroke-width="0.8" stroke-linejoin="round" />
<path d="M429,378L431,383L433,389" fill="none" stroke="#fff" stroke-width="0.8" stroke-linejoin="round" />
<path d="M429,378L434,375L440,375L443,377L443.6,383L440,388L441,394L439.6,399" fill="none" stroke="#fff" stroke-width="0.8" stroke-linejoin="round" />
<path d="M422,366L428,367L433,368L434,363L437,360L440,362L444,364L444.4,370L440,375" fill="none" stroke="#fff" stroke-width="0.8" stroke-linejoin="round" />
<path d="M444,364L446,370L447,375" fill="none" stroke="#fff" stroke-width="0.8" stroke-linejoin="round" />
<path d="M446,364L457.6,363" fill="none" stroke="#fff" stroke-width="0.8" stroke-linejoin="round" />
<path d="M444.4,343L454.4,349" fill="none" stroke="#fff" stroke-width="0.8" stroke-linejoin="round" />
<path d="M435,347L434.4,352L436,358L440,362" fill="none" stroke="#fff" stroke-width="0.8" stroke-linejoin="round" />
<path d="M435,347L438,345L440,343" fill="none" stroke="#fff" stroke-width="0.8" stroke-linejoin="round" />
<path d="M399,351L406,346L410,340L412,334L413,330" fill="none" stroke="#fff" stroke-width="0.8" stroke-linejoin="round" />
<path d="M392,335L398,336L399,342L396,346" fill="none" stroke="#fff" stroke-width="0.8" stroke-linejoin="round" />
<path d="M440,339L439,334L441,330" fill="none" stroke="#fff" stroke-width="0.8" stroke-linejoin="round" />
<path d="M413,330L420,332L428,331L435,332L439,334" fill="none" stroke="#fff" stroke-width="0.8" stroke-linejoin="round" />
<path d="M435,347L436,340L439,334" fill="none" stroke="#fff" stroke-width="0.8" stroke-linejoin="round" />
<path d="M430.8,406L432.4,404.4L434.2,406L432.4,407.8L430.8,406" fill="none" stroke="#fff" stroke-width="0.8" stroke-linejoin="round" />
<path d="M201,345L204,345L208,342L212,340L213,337" fill="none" stroke="#fff" stroke-width="0.8" stroke-linejoin="round" />
<path d="M226.4,343L223,345L219,347L217,352L220,356L219,360L223,361L227,362L228,368L226.4,373L225,377L223,383.6" fill="none" stroke="#fff" stroke-width="0.8" stroke-linejoin="round" />
<path d="M227,362L232,360L235,364L240,367L246,369L248,374L249,379L244,380L242,385L237,386L232.4,387L229,386L226.4,380L225.6,377" fill="none" stroke="#fff" stroke-width="0.8" stroke-linejoin="round" />
<path d="M249,379L252,382L253,388L257,389L257,393L255,397" fill="none" stroke="#fff" stroke-width="0.8" stroke-linejoin="round" />
<path d="M255,327L256,333L254,337" fill="none" stroke="#fff" stroke-width="0.8" stroke-linejoin="round" />
<path d="M260,328.4L261,334L259,337" fill="none" stroke="#fff" stroke-width="0.8" stroke-linejoin="round" />
<path d="M241,332L244,335L249,336L254,337L259,337L263,337L265.6,334.4" fill="none" stroke="#fff" stroke-width="0.8" stroke-linejoin="round" />
<path d="M226.4,343L230,337" fill="none" stroke="#fff" stroke-width="0.8" stroke-linejoin="round" />
<path d="M260,401L264,403L267,403" fill="none" stroke="#fff" stroke-width="0.8" stroke-linejoin="round" />
<path d="M257,401L258,396L255,392L252,388" fill="none" stroke="#fff" stroke-width="0.8" stroke-linejoin="round" />
<path d="M402.75,215.25L408,217.5L414,218.25L420,219.75L422.25,214.5L420.75,209.25L422.25,204.75L418.2,199.8" fill="none" stroke="#fff" stroke-width="0.8" stroke-linejoin="round" />
<path d="M422.25,204.75L429,202.5L430.5,198L429.75,192.75L432,187.5L430.5,183L432.75,180" fill="none" stroke="#fff" stroke-width="0.8" stroke-linejoin="round" />
<path d="M420,189.75L425.25,191.25L430.05,192.75" fill="none" stroke="#fff" stroke-width="0.8" stroke-linejoin="round" />
<path d="M419.25,196.5L424.5,197.25L430.5,198" fill="none" stroke="#fff" stroke-width="0.8" stroke-linejoin="round" />
<path d="M429,202.5L436.5,204L439.5,208.5L436.5,212.25L430.5,213.75L422.25,214.5" fill="none" stroke="#fff" stroke-width="0.8" stroke-linejoin="round" />
<path d="M439.5,208.5L444.75,210.75L451.5,212.25L456,216L456.75,219.75L453,223.5L449.7,224.7" fill="none" stroke="#fff" stroke-width="0.8" stroke-linejoin="round" />
<path d="M432.75,230.25L429,228L427.5,224.25L423,222.75L420,219.75" fill="none" stroke="#fff" stroke-width="0.8" stroke-linejoin="round" />
<path d="M432.75,230.25L432,234L424.5,234.75L420,232.5L417.75,228L420,223.5L423,222.75" fill="none" stroke="#fff" stroke-width="0.8" stroke-linejoin="round" />
<path d="M424.5,234.75L423.75,239.25L429,240L432.75,237.75L432,234" fill="none" stroke="#fff" stroke-width="0.8" stroke-linejoin="round" />
<path d="M402.75,215.25L405,213.75L409.5,215.25L414,218.25L411,219.75L406.5,219.75L403.5,218.25" fill="none" stroke="#fff" stroke-width="0.8" stroke-linejoin="round" />
<path d="M399,223.5L405,221.25L411,220.5L411.75,223.5L406.5,225.75L400.5,225.75" fill="none" stroke="#fff" stroke-width="0.8" stroke-linejoin="round" />
<path d="M411.75,223.5L412.5,227.25L417.75,228" fill="none" stroke="#fff" stroke-width="0.8" stroke-linejoin="round" />
<path d="M406.5,225.75L409.5,229.5L412.5,232.5L414.75,237L417.75,240L420,243.75" fill="none" stroke="#fff" stroke-width="0.8" stroke-linejoin="round" />
<path d="M412.5,227.25L414,231.75L417.75,234L420,232.5" fill="none" stroke="#fff" stroke-width="0.8" stroke-linejoin="round" />
<path d="M417.75,234L419.25,238.5L423.75,239.25" fill="none" stroke="#fff" stroke-width="0.8" stroke-linejoin="round" />
<path d="M423.75,239.25L425.25,243L430.5,242.25L432.75,239.25" fill="none" stroke="#fff" stroke-width="0.8" stroke-linejoin="round" />
<path d="M463.5,237L466.5,240.75L468,244.5L467.25,246.75" fill="none" stroke="#fff" stroke-width="0.8" stroke-linejoin="round" />
<path d="M458.7,232.8L463.5,237" fill="none" stroke="#fff" stroke-width="0.8" stroke-linejoin="round" />
<path d="M454.5,231.75L460.5,233.25L466.5,234.75L471.75,238.5" fill="none" stroke="#fff" stroke-width="0.8" stroke-linejoin="round" />
<path d="M463.5,237L468.75,237.75L472.5,240" fill="none" stroke="#fff" stroke-width="0.8" stroke-linejoin="round" />
<path d="M475.5,227.25L472.5,224.25L472.5,219.75L477,216L480.75,214.8" fill="none" stroke="#fff" stroke-width="0.8" stroke-linejoin="round" />
<path d="M393.75,189.25L395.25,184L398.25,179.5L399.75,174.25L403.5,169L406.5,163.75L410.25,158.5L414.75,154.75L420,152.5L423.75,154" fill="none" stroke="#fff" stroke-width="0.8" stroke-linejoin="round" />
<path d="M423.75,154L426,157.75L424.5,162.25L423,166.75" fill="none" stroke="#fff" stroke-width="0.8" stroke-linejoin="round" />
<path d="M423.75,154L428.25,152.5L432.75,150.25L435,152.5L433.5,157L436.5,162.25L438,168.25L441,175L441.75,181L438,186.25" fill="none" stroke="#fff" stroke-width="0.8" stroke-linejoin="round" />
<path d="M428.25,148L428.25,152.5" fill="none" stroke="#fff" stroke-width="0.8" stroke-linejoin="round" />
<path d="M557,221L560,219L566,218L572,215L578,212L584,213L589,217L596,218L604,219L612,218L618,220" fill="none" stroke="#fff" stroke-width="0.8" stroke-linejoin="round" />
<path d="M480,213L488,212L496,213L502,210L505,206L513,203L521,201L527,204L534,206L540,210L546,215L552,218L557,221" fill="none" stroke="#fff" stroke-width="0.8" stroke-linejoin="round" />
<path d="M486,236L491,239L498,240L505,238L512,239L519,240L526,238L534,237L540,238L544,238" fill="none" stroke="#fff" stroke-width="0.8" stroke-linejoin="round" />
<path d="M486,236L492,243L500,247L508,250L513,254" fill="none" stroke="#fff" stroke-width="0.8" stroke-linejoin="round" />
<path d="M485,252L492,254L500,258L508,256L513,254L520,252L527,251L532.4,252" fill="none" stroke="#fff" stroke-width="0.8" stroke-linejoin="round" />
<path d="M519,240L517,245L523,246L530,247" fill="none" stroke="#fff" stroke-width="0.8" stroke-linejoin="round" />
<path d="M520,252L519,247L517,245" fill="none" stroke="#fff" stroke-width="0.8" stroke-linejoin="round" />
<path d="M532.4,252L528,256L525,261L520,264L516,266" fill="none" stroke="#fff" stroke-width="0.8" stroke-linejoin="round" />
<path d="M500,258L501,264L499,270" fill="none" stroke="#fff" stroke-width="0.8" stroke-linejoin="round" />
<path d="M543.75,269.5L547.5,271L552.75,274L558,275.5L558.75,277.75L554.25,277.75L549,275.5L544.5,272.5L543.75,269.5" fill="none" stroke="#fff" stroke-width="0.8" stroke-linejoin="round" />
<path d="M561.75,274.75L566.25,274.75L566.25,277.75L562.2,277.75L561.75,274.75" fill="none" stroke="#fff" stroke-width="0.8" stroke-linejoin="round" />
<path d="M559.5,287.5L559.5,282.25L562.5,280L566.25,280.75L567.75,283.75L566.7,289.75" fill="none" stroke="#fff" stroke-width="0.8" stroke-linejoin="round" />
<path d="M577.5,276.25L575.25,280L573.75,283.75L571.5,287.5L569.25,290.2" fill="none" stroke="#fff" stroke-width="0.8" stroke-linejoin="round" />
<path d="M582.75,286L583.5,291.25L582,295L584.25,299.5L582.75,304L583.5,310L582.75,316" fill="none" stroke="#fff" stroke-width="0.8" stroke-linejoin="round" />
<path d="M584.25,299.5L588,296.5L591.75,298.75L594.75,302.5L596.25,307" fill="none" stroke="#fff" stroke-width="0.8" stroke-linejoin="round" />
<path d="M591.75,289L594.75,293.5L597.75,298L599.25,302.5L598.5,307.75" fill="none" stroke="#fff" stroke-width="0.8" stroke-linejoin="round" />
<path d="M588.75,307.75L596.25,307L598.5,307.75L597.75,312.25L594.75,315.25" fill="none" stroke="#fff" stroke-width="0.8" stroke-linejoin="round" />
<path d="M582.75,286L585,288.25L588,287.5L591.75,289" fill="none" stroke="#fff" stroke-width="0.8" stroke-linejoin="round" />
<path d="M447.75,265.38L451.25,262.88L456.25,261.25L457.5,257.88L460,256" fill="none" stroke="#fff" stroke-width="0.8" stroke-linejoin="round" />
<path d="M456.25,261.25L453.75,265.38L450,267.88L448.12,271.62" fill="none" stroke="#fff" stroke-width="0.8" stroke-linejoin="round" />
<path d="M456.25,261.62L461.25,266L466.25,269.12L471.25,270" fill="none" stroke="#fff" stroke-width="0.8" stroke-linejoin="round" />
<path d="M472.5,269.12L470.62,264.75L471.25,261L469.38,256" fill="none" stroke="#fff" stroke-width="0.8" stroke-linejoin="round" />
<path d="M463.75,306L467.5,302.88L472.5,301L478.75,299.75L482.5,298.5L485,301.62" fill="none" stroke="#fff" stroke-width="0.8" stroke-linejoin="round" />
<path d="M482.5,298.5L487.5,294.12L488.12,289.75L485.62,285.38L488.12,284.12L490,281.62" fill="none" stroke="#fff" stroke-width="0.8" stroke-linejoin="round" />
<path d="M447.75,268.5L449,267.88L448.5,271.25" fill="none" stroke="#fff" stroke-width="0.8" stroke-linejoin="round" />
<path d="M450.62,254.38L455,253.75L460,252.75L465,251.88L468.12,250.62L468.12,252.5L469.38,256" fill="none" stroke="#fff" stroke-width="0.8" stroke-linejoin="round" />
<path d="M468.12,250.62L467.5,246.88L468.75,243.75" fill="none" stroke="#fff" stroke-width="0.8" stroke-linejoin="round" />
<path d="M458.75,238.75L462.5,240.62L466.25,241.88L468.75,243.75" fill="none" stroke="#fff" stroke-width="0.8" stroke-linejoin="round" />
<path d="M455,233.12L460,234.38L465,235L470,237.5" fill="none" stroke="#fff" stroke-width="0.8" stroke-linejoin="round" />
<path d="M466.25,241.88L470,240.62L473.75,243.12" fill="none" stroke="#fff" stroke-width="0.8" stroke-linejoin="round" />
<path d="M468.75,243.75L472.5,244.38L475,246.25" fill="none" stroke="#fff" stroke-width="0.8" stroke-linejoin="round" />
<path d="M503.12,256L501.88,261L503.12,265.38L505,269.75L506.88,273.5L505.62,276.62L505,281.62" fill="none" stroke="#fff" stroke-width="0.8" stroke-linejoin="round" />
<path d="M505,269.75L510,270.38L514.38,268.5L517.5,265.38L521.25,262.88L523.75,259.75L526.25,257.25L530,256" fill="none" stroke="#fff" stroke-width="0.8" stroke-linejoin="round" />
<path d="M182,300.25L179.75,301L179.3,303.25L176.75,304L175.7,305.8" fill="none" stroke="#fff" stroke-width="0.8" stroke-linejoin="round" />
<path d="M183.5,302.5L181.7,302.8L179.75,301" fill="none" stroke="#fff" stroke-width="0.8" stroke-linejoin="round" />
<path d="M185,304.3L182.75,306.25L180.5,308.2" fill="none" stroke="#fff" stroke-width="0.8" stroke-linejoin="round" />
<path d="M182.75,306.25L186.5,307.75L189.5,307L194,304.9" fill="none" stroke="#fff" stroke-width="0.8" stroke-linejoin="round" />
<path d="M186.5,307.75L188,310.75" fill="none" stroke="#fff" stroke-width="0.8" stroke-linejoin="round" />
<path d="M197.75,310L194,310L191,313" fill="none" stroke="#fff" stroke-width="0.8" stroke-linejoin="round" />
<path d="M200,319.75L197,318.25L196.25,320.5" fill="none" stroke="#fff" stroke-width="0.8" stroke-linejoin="round" />
<path d="M384,214L389,212.4" fill="none" stroke="#fff" stroke-width="0.8" stroke-linejoin="round" />
<path d="M382.4,217L386,217.6L389,216.4" fill="none" stroke="#fff" stroke-width="0.8" stroke-linejoin="round" />
<path d="M389,228L395,228L396.4,230L391,231.4L389,230" fill="none" stroke="#fff" stroke-width="0.8" stroke-linejoin="round" />
<path d="M389,233L392,230.4L398,229.4L403,230L404.4,232" fill="none" stroke="#fff" stroke-width="0.8" stroke-linejoin="round" />
<path d="M670.25,343.25L670.7,349.25L671,354.8" fill="none" stroke="#fff" stroke-width="0.8" stroke-linejoin="round" />
<path d="M604.7,339.8L609.5,337.25L614,334.25L617.75,331.25L620.75,329.75" fill="none" stroke="#fff" stroke-width="0.8" stroke-linejoin="round" />
<path d="M586.7,323L584.75,319.25" fill="none" stroke="#fff" stroke-width="0.8" stroke-linejoin="round" />
<path d="M22.5,155L26.25,152.75L30.75,150.5L36,147.5L41.25,146L46.5,147.5L51.75,149L57.75,149.75L63.75,150.5L69,151.7L74.25,152.75L74.25,185L76.5,186.5L79.5,188L83.25,189.5L87,191.75L90,194.75L93.75,198.5L96.75,201.5L97.5,204.5L96,207.5L94.5,210.5L93,207.5L92.25,203.75L90,200L87,197L84,193.25L81.75,190.25L78,188L74.25,185.75L70.5,184.25L66.75,183.8L63,183.5L60,185L57.75,184.25L54.75,185L52.5,187.25L51.75,185L49.5,186.5L48,189.5L49.5,191.75L48,195.5L45.75,197.75L46.5,194L45.75,191L42.75,193.25L39.75,196.25L36.75,198.5L33,200.75L29.25,203L24.75,204.8L21,206.75L18.75,208.25L18,206.75L21,204.8L25.5,202.7L30,200L34.5,197L38.25,193.25L40.5,190.25L38.25,190.25L35.25,189.5L32.25,188L30.75,185.75L27.75,185L24.75,184.25L22.5,182L24,179.75L27.75,177.5L30.75,176L31.5,173.75L30,171.5L26.25,170.75L22.5,170L19.5,168.5L18.75,166.7L21.75,165.5L26.25,164.75L30.75,164.75L32.25,163.25L30,161.75L26.25,160.25L23.25,158Z" fill="#61b5cc" stroke="#fff" stroke-width="0.7" stroke-linejoin="round"/>
<path d="M111.25,221.25L150,220.75L175.5,220.75L180,222.7L182.25,223.75L189,223.75L195,226.75L198.75,231.25L201,235.75L203.25,238.75L208.5,236.5L212.25,234.25L216,233.5L220.5,231.25L223.5,229L225.75,226L228,225.25L230.25,226.75L231,230.5L228.75,232.75L225.75,234.25L224.25,236.5L222,237.25L219.75,239.2L216.75,241L214.5,244L213,247L211.5,250L212.25,253L210.75,256.75L207.75,259.75L204.75,262.75L202.5,265.75L201,268.75L200.7,271.75L201.75,274.75L201.8,272.5L203,276.25L203.75,279.25L202.7,281.8L201.2,278.5L200,274.75L197,271.75L192.5,271L188,271.75L183.5,270.25L179,272.5L174.5,271L171.5,272.5L169.25,275.5L167,279.25L164.75,277.75L161.75,276.25L158,272.5L153.5,271.75L150.5,268L146,266.5L136.25,267.25L132.5,264.25L125,264.25L120.5,259L117.5,254.5L114.5,250L112.5,246.25L110.5,241.25L110,235L110.5,228.75Z" fill="#61b5cc" stroke="#fff" stroke-width="0.7" stroke-linejoin="round"/>
<path d="M208,319L212,316L216,313L219,311.6L221,314.4L220,318L219.6,321L222,324L226,325L229,326L229.6,330L228.6,334L230,337L228,339L226.4,343L224,341L221,339L217,337L213,337L209,335L206,332L205,330L206,328L207,323Z" fill="#61b5cc" stroke="#fff" stroke-width="0.7" stroke-linejoin="round"/>
<path d="M251.6,409L254.4,408.4L257.6,410L259.6,413.6L259.6,417L257,419.6L253.6,420L251.6,418L251,414Z" fill="#61b5cc" stroke="#fff" stroke-width="0.7" stroke-linejoin="round"/>
<path d="M390,206.88L391.88,204.75L395,203.75L398.75,204L402.5,204.38L404.75,206.25L405,210L405.62,213.75L404.38,216.25L402.5,217.5L401.88,220L400.62,222.5L398.12,224L395,223.75L392.5,222.5L390.62,220.62L389.38,217.5L388.5,214.38L389,211.25L389.38,208.75Z" fill="#61b5cc" stroke="#fff" stroke-width="0.7" stroke-linejoin="round"/>
<path d="M364,224.2L361,222.25L364.75,220.75L367.75,221.2L369.25,219.25L371.5,220L375.25,217.75L378.25,215.5L381.25,217L385,219.25L388,220L390.25,220.75L389.5,223.75L387.7,226.75L388.75,229.75L387.25,232.75L388.3,235L385,236.5L381.25,236.2L378.7,237.25L377.5,238.3L373.75,236.8L370,235.45L370,231.25L369.25,228.25L367,226Z" fill="#61b5cc" stroke="#fff" stroke-width="0.7" stroke-linejoin="round"/>
<path d="M377.5,238.3L376,241L373.75,243.25L371.8,246.25L370.75,249.25L368.5,251.5L365.5,253L362.5,254.2L361,253L358,252.7L355,252.25L353.2,251.5L353.5,247.75L354.25,244L353.8,240.25L354.25,237.25L355,235.75L359.5,235.3L364.75,235.75L370,235.45L373.75,236.8Z" fill="#61b5cc" stroke="#fff" stroke-width="0.7" stroke-linejoin="round"/>
<path d="M558.75,221.25L562.5,225L566.25,230L572.5,233.75L580,237.5L587.5,240L595,241.25L602.5,238.75L610,235L616.25,231.25L622.5,227.5L620,223.75L617.5,220L622.5,217.5L624.17,213.33L625.83,209.17L630,207.5L635,208.33L638.33,211.67L640,215.83L643.33,219.17L647.5,221.67L652.5,223.33L655.83,224.17L655,227.5L652.5,229.17L650.83,232.5L648.33,235L645.83,237.5L643.33,240L640,242.5L637.5,244.17L635.83,246.67L628.75,246.25L626.25,245.5L623.75,243.75L621.25,246.25L623.75,250L627.5,252.5L625,256.25L627,252.25L628.5,256L627,260.5L626.25,265L627,269.5L626.25,274L624,278.5L621,282.25L617.25,285.25L613.5,287.5L609.75,290.5L606.75,293.5L605.25,295L604.5,296.5L603.75,294.25L603,292L602.25,291.25L599.25,290.5L597,288.25L594.75,287.5L591.75,289L588,287.5L585,288.25L582.75,286L581.25,282.25L579.75,279.25L578.25,275.5L576,272.8L571.5,272.2L567,274L562.5,274L558,274.75L552.75,273.25L547.5,270.25L543,268.75L540,265L541.25,265L542.5,261.25L540,257.5L536.25,255L532.5,252.5L530,248.75L532.5,245L537.5,242.5L543.75,240L545,233.75L551.25,230L555,225Z" fill="#61b5cc" stroke="#fff" stroke-width="0.7" stroke-linejoin="round"/>
<path d="M531.25,260L536.25,257.5L541.25,260L542.5,263.75L541.25,267.5L543,268.75L543.75,269.5L544.5,272.5L549,275.5L554.25,277.75L558.75,277.75L558,274.75L561.75,274.75L562.2,277.75L566.25,277.75L566.25,274.75L567,274L571.5,272.2L576,272.8L577.5,276.25L575.25,280L573.75,283.75L571.5,287.5L569.25,290.2L567,289.3L567.75,283.75L566.25,280.75L562.5,280L559.5,282.25L559.5,287.5L557.25,288.25L553.5,289.75L549,293.5L544.5,298.75L540,304L540,311.25L538.75,316.25L536.25,318.75L535.4,318L534,315L532,310L530,305L528,300L527,296L526,294L522,293L523,290L519,290L521,288L524,284L523,280L526,277L530,273L532,269L531,265L533,261L532,258Z" fill="#61b5cc" stroke="#fff" stroke-width="0.7" stroke-linejoin="round"/>
<path d="M670.83,205.83L672.5,205.83L673.67,210L674.67,215L675.83,220L676.67,222.5L675,225.83L673.67,227.5L672.5,224.17L671.67,219.17L671.33,214.17L670.83,210Z" fill="#61b5cc" stroke="#61b5cc" stroke-width="0.8" stroke-linejoin="round"/>
<path d="M669.17,233.67L672.5,231.67L675.83,233.67L679.17,234.67L678.33,237L675.83,238.33L673.33,240L670.83,240.83L668.33,239.17L667.5,236.33Z" fill="#61b5cc" stroke="#61b5cc" stroke-width="0.8" stroke-linejoin="round"/>
<path d="M668.33,243L670.83,243.67L672,247.5L670.83,251.67L669.17,254.17L665.83,255.83L662.5,256.67L659.17,257.5L655.83,259.17L652.5,260.83L649.17,262L646.67,263.33L645.83,261.67L648.33,259.17L652.5,257.5L656.67,255.83L660.83,253.33L664.17,250.83L666.67,247.5L667.5,244.67Z" fill="#61b5cc" stroke="#61b5cc" stroke-width="0.8" stroke-linejoin="round"/>
<path d="M645,263L647.5,263.33L648.67,265.83L647.5,268L645.83,267L644.67,265Z" fill="#61b5cc" stroke="#61b5cc" stroke-width="0.8" stroke-linejoin="round"/>
<path d="M650.83,262L655,260.83L655.83,262.5L652.5,263.67Z" fill="#61b5cc" stroke="#61b5cc" stroke-width="0.8" stroke-linejoin="round"/>
<path d="M639.67,250.83L642.5,249.67L644.17,251.67L644.67,255L643.33,257.5L640.83,258L639.17,255.83L638.67,253Z" fill="#61b5cc" stroke="#61b5cc" stroke-width="0.8" stroke-linejoin="round"/>
<path d="M167,279.25L166.25,283.75L166.7,289L168.5,292.75L171.5,295.75L175.25,298L178.25,297.7L180.5,295L182,292L185.75,290.5L188.75,290.8L188,294.25L185.75,297.25L183.5,298.75L182,300.25L179.75,301L179.3,303.25L176.75,304L175.7,305.8L173,303.7L169.25,302.5L164.75,301.75L160.25,300.25L156.5,298L153.5,295.75L150.5,292.75L148.25,289.3L146,286L143.75,282.25L141.5,278.5L139.25,274.75L137,271L134.75,268L132.5,266.8L133.25,269.5L134.75,273.25L136.7,277.75L138.5,281.5L140,285.25L140.6,287.35L138.8,286L136.7,282.25L134.75,278.5L132.5,274.75L130.25,271L128,268L125.75,265.75L125,264.25L125,264.25L132.5,264.25L136.25,267.25L146,266.5L150.5,268L153.5,271.75L158,272.5L161.75,276.25L164.75,277.75Z" fill="#ea6661" stroke="#fff" stroke-width="0.7" stroke-linejoin="round"/>
<path d="M221,314.4L224,314L229,313.6L234,314.4L239,316L243,318L246,321L248,324L245,327L244,330L241,332L239,331L237,333L236,336L233,337L231,335L229.6,330L229,326L226,325L222,324L219.6,321L220,318Z" fill="#ea6661" stroke="#fff" stroke-width="0.7" stroke-linejoin="round"/>
<path d="M230,391L234,389L239,389L243,391L247,394L250,396L253,399L257,401L259,399L260,401L258,404L255,406L252,409L250.4,413L250.4,417L251.6,420L253,423L251,427L247,429L243,430.4L240,432L239.6,436L240.4,439L237,440L235.6,444L234,448L231.6,451L232.4,454.4L229.6,456L228,460L226.4,463L224.4,465L221,464L218.4,462.4L219,458L220,453L221,448L222,443L221.6,438L222.4,433L223,428L224,423L225,418L225.6,413L226.4,408L227.6,403L228.4,398L229.2,394Z" fill="#ea6661" stroke="#fff" stroke-width="0.7" stroke-linejoin="round"/>
<path d="M164.25,205L165.75,206.5L168,211L169.2,215.5L167.7,214.75L165.75,210.25L163.5,206.5Z" fill="#fff" />
<path d="M180.75,223L184.5,220.75L189,221.5L193.5,223.75L195,226L192,226.75L188.25,226L185.25,226.75L182.25,226Z" fill="#fff" />
<path d="M187.5,229.75L189.75,229L191.25,232.75L191.25,237.25L189.3,240.25L187.5,238.75L186.75,234.25Z" fill="#fff" />
<path d="M195,226.75L198,227.5L201.75,229.75L203.25,233.5L201,235.75L198.75,235L197.7,232L195,230.5L193.8,228.25Z" fill="#fff" />
<path d="M198.75,238.75L202.5,237.25L207.75,235.75L209.25,236.8L205.5,238.75L201,240.7Z" fill="#fff" />
<path d="M208.5,234.25L213,233.2L216,233.8L213.75,235.3L209.7,235.75Z" fill="#fff" />
<path d="M353.8,239.5L358,239.5L358.75,241.75L357.7,245.5L358.3,249.25L357.25,252.4" fill="none" stroke="#fff" stroke-width="0.8" stroke-linejoin="round" />
<path d="M430.3,113.25L430.3,210L400.7,210" fill="none" stroke="#222" stroke-width="1.1"/>
<circle cx="430.3" cy="113.25" r="2.2" fill="#1a1a1a"/>
<circle cx="400.7" cy="210" r="2.9" fill="#1a1a1a" stroke="#fff" stroke-width="1"/>
<path d="M631.75,115L631.75,220" fill="none" stroke="#222" stroke-width="1.1"/>
<circle cx="631.75" cy="115" r="2.2" fill="#1a1a1a"/>
<circle cx="631.75" cy="220" r="2.9" fill="#1a1a1a" stroke="#fff" stroke-width="1"/>
<path d="M377,171.75L377,220.75" fill="none" stroke="#222" stroke-width="1.1"/>
<circle cx="377" cy="171.75" r="2.2" fill="#1a1a1a"/>
<circle cx="377" cy="220.75" r="2.9" fill="#1a1a1a" stroke="#fff" stroke-width="1"/>
<path d="M302.5,226.25L302.5,241.25L353,241.25" fill="none" stroke="#222" stroke-width="1.1"/>
<circle cx="302.5" cy="226.25" r="2.2" fill="#1a1a1a"/>
<circle cx="353" cy="241.25" r="2.9" fill="#1a1a1a" stroke="#fff" stroke-width="1"/>
<path d="M294.25,253.75L361.25,253.75" fill="none" stroke="#222" stroke-width="1.1"/>
<circle cx="294.25" cy="253.75" r="2.2" fill="#1a1a1a"/>
<circle cx="361.25" cy="253.75" r="2.9" fill="#1a1a1a" stroke="#fff" stroke-width="1"/>
<path d="M93.75,238L133.75,238" fill="none" stroke="#222" stroke-width="1.1"/>
<circle cx="93.75" cy="238" r="2.2" fill="#1a1a1a"/>
<circle cx="133.75" cy="238" r="2.9" fill="#1a1a1a" stroke="#fff" stroke-width="1"/>
<path d="M92.75,307.5L92.75,294.75L156.5,294.75" fill="none" stroke="#222" stroke-width="1.1"/>
<circle cx="92.75" cy="307.5" r="2.2" fill="#1a1a1a"/>
<circle cx="156.5" cy="294.75" r="2.9" fill="#1a1a1a" stroke="#fff" stroke-width="1"/>
<path d="M249.25,301.25L237,301.25L237,320.5" fill="none" stroke="#222" stroke-width="1.1"/>
<circle cx="249.25" cy="301.25" r="2.2" fill="#1a1a1a"/>
<circle cx="237" cy="320.5" r="2.9" fill="#1a1a1a" stroke="#fff" stroke-width="1"/>
<path d="M160.75,353.25L160.75,330L218,330" fill="none" stroke="#222" stroke-width="1.1"/>
<circle cx="160.75" cy="353.25" r="2.2" fill="#1a1a1a"/>
<circle cx="218" cy="330" r="2.9" fill="#1a1a1a" stroke="#fff" stroke-width="1"/>
<path d="M143,427L143,414.25L235,414.25" fill="none" stroke="#222" stroke-width="1.1"/>
<circle cx="143" cy="427" r="2.2" fill="#1a1a1a"/>
<circle cx="235" cy="414.25" r="2.9" fill="#1a1a1a" stroke="#fff" stroke-width="1"/>
<path d="M322,431.25L322,415.75L258.75,415.75" fill="none" stroke="#222" stroke-width="1.1"/>
<circle cx="322" cy="431.25" r="2.2" fill="#1a1a1a"/>
<circle cx="258.75" cy="415.75" r="2.9" fill="#1a1a1a" stroke="#fff" stroke-width="1"/>
<path d="M535.5,385.1L535.5,308.7" fill="none" stroke="#222" stroke-width="1.1"/>
<circle cx="535.5" cy="385.1" r="2.2" fill="#1a1a1a"/>
<circle cx="535.5" cy="308.7" r="2.9" fill="#1a1a1a" stroke="#fff" stroke-width="1"/>
<path d="M658,287.5L638.75,287.5L638.75,259.25" fill="none" stroke="#222" stroke-width="1.1"/>
<circle cx="658" cy="287.5" r="2.2" fill="#1a1a1a"/>
<circle cx="638.75" cy="259.25" r="2.9" fill="#1a1a1a" stroke="#fff" stroke-width="1"/>
<path d="M728.75,253.75L668.75,253.75" fill="none" stroke="#222" stroke-width="1.1"/>
<circle cx="728.75" cy="253.75" r="2.2" fill="#1a1a1a"/>
<circle cx="668.75" cy="253.75" r="2.9" fill="#1a1a1a" stroke="#fff" stroke-width="1"/>
<text class="t" x="7" y="25.6" textLength="553" lengthAdjust="spacingAndGlyphs">Vacunación contra la enfermedad en el mundo</text>
<text class="g" x="31.5" y="54.2" textLength="210" lengthAdjust="spacingAndGlyphs">Con mayor porcentaje de</text>
<text class="g" x="31.5" y="72.8" textLength="236.5" lengthAdjust="spacingAndGlyphs">cobertura entre la población</text>
<text class="g" x="31.5" y="96.2" textLength="89.5" lengthAdjust="spacingAndGlyphs">Los peores</text>
<text class="n" x="396.35" y="84.25" textLength="71.05" lengthAdjust="spacingAndGlyphs">Alemania</text>
<text class="p" x="411.9" y="107.35" textLength="44.5" lengthAdjust="spacingAndGlyphs">92%</text>
<text class="n" x="613.35" y="83.75" textLength="44.05" lengthAdjust="spacingAndGlyphs">China</text>
<text class="p" x="613.15" y="108.1" textLength="45.25" lengthAdjust="spacingAndGlyphs">95%</text>
<text class="n" x="341.6" y="139.5" textLength="56.3" lengthAdjust="spacingAndGlyphs">Francia</text>
<text class="p" x="350.15" y="164.1" textLength="44.25" lengthAdjust="spacingAndGlyphs">93%</text>
<text class="n" x="275.35" y="197" textLength="63.8" lengthAdjust="spacingAndGlyphs">Portugal</text>
<text class="p" x="286.15" y="221.1" textLength="45.25" lengthAdjust="spacingAndGlyphs">96%</text>
<text class="n" x="233.35" y="252.5" textLength="54.55" lengthAdjust="spacingAndGlyphs">España</text>
<text class="p" x="242.4" y="276.1" textLength="45.25" lengthAdjust="spacingAndGlyphs">92%</text>
<text class="n" x="64.1" y="246.25" textLength="22.55" lengthAdjust="spacingAndGlyphs">EU</text>
<text class="p" x="58.15" y="270.6" textLength="45.75" lengthAdjust="spacingAndGlyphs">95%</text>
<text class="n" x="64.8" y="327.5" textLength="54.1" lengthAdjust="spacingAndGlyphs">México</text>
<text class="p" x="68.9" y="351.85" textLength="45" lengthAdjust="spacingAndGlyphs">69%</text>
<text class="n" x="255.1" y="307" textLength="76.55" lengthAdjust="spacingAndGlyphs">Venezuela</text>
<text class="p" x="269.4" y="328.6" textLength="44.5" lengthAdjust="spacingAndGlyphs">51%</text>
<text class="n" x="125.85" y="373" textLength="71.55" lengthAdjust="spacingAndGlyphs">Colombia</text>
<text class="p" x="139.4" y="396.85" textLength="45.75" lengthAdjust="spacingAndGlyphs">86%</text>
<text class="n" x="105.85" y="445.5" textLength="74.05" lengthAdjust="spacingAndGlyphs">Argentina</text>
<text class="p" x="120.15" y="469.1" textLength="45" lengthAdjust="spacingAndGlyphs">46%</text>
<text class="n" x="292.1" y="449.5" textLength="65.3" lengthAdjust="spacingAndGlyphs">Uruguay</text>
<text class="p" x="301.9" y="473.1" textLength="44.5" lengthAdjust="spacingAndGlyphs">95%</text>
<text class="n" x="516.4" y="405.5" textLength="38.7" lengthAdjust="spacingAndGlyphs">India</text>
<text class="p" x="515.7" y="430" textLength="46.3" lengthAdjust="spacingAndGlyphs">92%</text>
<text class="n" x="664.1" y="292.5" textLength="44.3" lengthAdjust="spacingAndGlyphs">Corea</text>
<text class="n" x="661.35" y="310.5" textLength="54.05" lengthAdjust="spacingAndGlyphs">del Sur</text>
<text class="p" x="666.4" y="332.35" textLength="45" lengthAdjust="spacingAndGlyphs">96%</text>
<text class="n" x="734.6" y="257.5" textLength="45.3" lengthAdjust="spacingAndGlyphs">Japón</text>
<text class="p" x="735.65" y="282.35" textLength="45.25" lengthAdjust="spacingAndGlyphs">96%</text>
<circle cx="17.4" cy="49.5" r="9.3" fill="#61b5cc"/>
<circle cx="17.2" cy="91" r="9.3" fill="#ea6661"/>
</svg>
</body></html>
